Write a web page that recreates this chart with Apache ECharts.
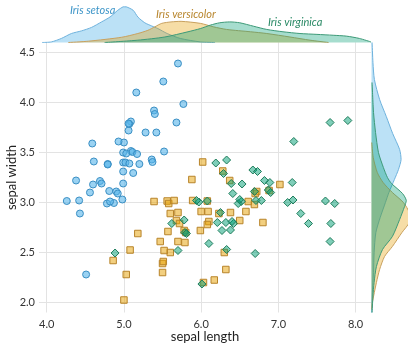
<!DOCTYPE html>
<html>
<head>
<meta charset="utf-8">
<script src="https://cdn.jsdelivr.net/npm/echarts@6/dist/echarts.min.js"></script>
<style>
  html, body { margin: 0; padding: 0; background: #fff; }
  #chart { width: 408px; height: 344px; }
</style>
</head>
<body>
<div id="chart"></div>
<script>
// Iris sepal measurements: [sepal length, sepal width]
const setosa = [
  [5.09,3.515],[4.87,2.995],[4.69,3.215],[4.56,3.10],[5.00,3.60],[5.39,3.92],[4.61,3.41],[4.99,3.40],
  [4.43,2.89],[4.90,3.11],[5.42,3.70],[4.79,3.385],[4.78,2.99],[4.26,3.015],[5.77,3.985],[5.70,4.39],
  [5.40,3.885],[5.11,3.505],[5.68,3.80],[5.09,3.81],[5.36,3.43],[5.06,3.72],[4.59,3.59],[5.12,3.295],
  [4.79,3.38],[4.98,3.03],[5.02,3.40],[5.17,3.485],[5.20,3.385],[4.71,3.19],[4.81,3.115],[5.37,3.405],
  [5.16,4.10],[5.51,4.21],[4.92,3.09],[4.99,3.19],[5.52,3.51],[4.93,3.61],[4.42,3.02],[5.07,3.39],
  [4.99,3.50],[4.51,2.28],[4.38,3.22],[5.03,3.49],[5.07,3.785],[4.82,3.01],[5.06,3.79],[4.60,3.18],
  [5.28,3.70],[4.99,3.31]
];
const versicolor = [
  [7.02,3.18],[6.37,3.22],[6.88,3.12],[5.50,2.30],[6.50,2.82],[5.68,2.82],[6.28,3.315],[4.86,2.42],
  [6.58,2.91],[5.18,2.69],[5.00,2.025],[5.89,3.02],[6.03,2.20],[6.09,2.91],[5.60,2.89],[6.70,3.09],
  [5.56,3.015],[5.80,2.70],[6.17,2.225],[5.60,2.50],[5.88,3.23],[6.10,2.81],[6.30,2.50],[6.08,2.78],
  [6.38,2.90],[6.61,3.01],[6.80,2.80],[6.69,2.98],[6.00,2.91],[5.70,2.61],[5.50,2.39],[5.51,2.41],
  [5.78,2.72],[5.99,2.72],[5.39,3.01],[6.02,3.405],[6.72,3.11],[6.32,2.33],[5.58,2.99],[5.52,2.52],
  [5.47,2.61],[6.08,3.015],[5.79,2.60],[5.03,2.28],[5.57,2.71],[5.65,3.02],[5.70,2.90],[6.23,2.89],
  [5.08,2.525],[5.72,2.79]
];
const virginica = [
  [6.29,3.29],[5.79,2.70],[7.12,3.00],[6.25,2.90],[6.52,3.01],[7.61,3.015],[4.885,2.495],[7.29,2.89],
  [6.70,2.49],[7.20,3.61],[6.53,3.185],[6.38,2.725],[6.78,3.02],[5.70,2.52],[5.78,2.825],[6.39,3.19],
  [6.48,2.99],[7.67,3.80],[7.67,2.61],[6.01,2.185],[6.89,3.20],[5.62,2.79],[7.68,2.79],[6.27,2.72],
  [6.67,3.325],[7.18,3.20],[6.21,2.80],[6.08,3.015],[6.42,2.79],[7.19,3.025],[7.39,2.79],[7.90,3.82],
  [6.40,2.81],[6.32,2.80],[6.10,2.59],[7.73,2.99],[6.33,3.425],[6.41,3.09],[5.97,3.005],[6.87,3.125],
  [6.69,3.11],[6.90,3.10],[5.81,2.69],[6.82,3.22],[6.73,3.31],[6.71,3.02],[6.33,2.53],[6.50,3.03],
  [6.19,3.395],[5.94,3.02]
];

// Marginal densities of sepal length: [sepal length, density]
const setosaLengthDensity = [
  [3.94,0],[4.06,0.02],[4.19,0.14],[4.32,0.31],[4.45,0.40],[4.58,0.52],[4.71,0.71],[4.82,0.88],
  [4.92,1.11],[4.99,1.23],[5.03,1.23],[5.12,1.11],[5.18,0.88],[5.27,0.68],[5.36,0.57],[5.44,0.48],
  [5.56,0.31],[5.73,0.14],[5.99,0.02],[6.18,0]
];
const versicolorLengthDensity = [
  [4.28,0],[4.54,0.045],[4.97,0.18],[5.18,0.31],[5.31,0.42],[5.40,0.54],[5.49,0.66],[5.61,0.71],
  [5.74,0.73],[5.99,0.66],[6.16,0.54],[6.33,0.45],[6.64,0.37],[6.85,0.31],[7.15,0.19],[7.41,0.08],
  [7.65,0]
];
const virginicaLengthDensity = [
  [4.75,0],[5.18,0.08],[5.53,0.19],[5.83,0.37],[5.99,0.48],[6.12,0.60],[6.24,0.68],[6.37,0.71],
  [6.50,0.68],[6.68,0.56],[6.85,0.45],[7.06,0.37],[7.28,0.31],[7.50,0.28],[7.71,0.25],[7.88,0.22],
  [8.05,0.14],[8.2,0.02]
];

// Marginal densities of sepal width: [sepal width, density]
const setosaWidthDensity = [
  [4.6,0.02],[4.4,0.05],[4.23,0.10],[4.03,0.28],[3.86,0.51],[3.69,0.73],[3.53,0.97],[3.43,1.02],
  [3.33,0.93],[3.23,0.79],[3.10,0.60],[3.00,0.48],[2.85,0.30],[2.70,0.15],[2.50,0.09],[2.30,0.07],
  [2.10,0.03],[1.9,0.01]
];
const versicolorWidthDensity = [
  [3.6,0.01],[3.45,0.06],[3.3,0.20],[3.2,0.40],[3.1,0.72],[3.0,1.10],[2.9,1.30],[2.8,1.30],
  [2.7,1.05],[2.56,0.72],[2.46,0.45],[2.33,0.28],[2.2,0.17],[2.0,0.03],[1.93,0]
];
const virginicaWidthDensity = [
  [4.2,0.02],[3.9,0.07],[3.7,0.14],[3.5,0.24],[3.35,0.41],[3.25,0.55],[3.19,0.69],[3.09,1.07],
  [3.02,1.20],[2.96,1.14],[2.83,0.97],[2.66,0.72],[2.53,0.38],[2.36,0.17],[2.2,0.09],[2.06,0.05],
  [1.9,0.02]
];

const xTicks = [4.0, 5.0, 6.0, 7.0, 8.0];
const yTicks = [2.0, 2.5, 3.0, 3.5, 4.0, 4.5];
const speciesNames = ['Iris setosa', 'Iris versicolor', 'Iris virginica'];

const FONT = 'Lato';
const palette = {
  setosa:     { point: 'rgba(86,180,233,0.6)', pointLine: '#3a8fc4', area: 'rgba(86,180,233,0.4)', areaLine: '#6eb2dd', text: '#3d95c8' },
  versicolor: { point: 'rgba(230,159,0,0.5)',  pointLine: '#b8842a', area: 'rgba(230,159,0,0.35)', areaLine: '#c9a15e', text: '#b8862e' },
  virginica:  { point: 'rgba(0,158,115,0.5)',  pointLine: '#1f7d5c', area: 'rgba(0,158,115,0.35)', areaLine: '#3d9a78', text: '#2b8a66' }
};

// Filled density outline through the axes of a marginal grid.
// For the right margin the pairs are [width, density] and get swapped.
function densitySeries(points, gridIdx, swap, colors) {
  return {
    type: 'custom',
    xAxisIndex: gridIdx,
    yAxisIndex: gridIdx,
    data: [0],
    silent: true,
    clip: false,
    renderItem: function (params, api) {
      const pts = points.map(function (p) {
        return api.coord(swap ? [p[1], p[0]] : p);
      });
      let minX = Infinity, minY = Infinity, maxX = -Infinity, maxY = -Infinity;
      pts.forEach(function (q) {
        minX = Math.min(minX, q[0]); maxX = Math.max(maxX, q[0]);
        minY = Math.min(minY, q[1]); maxY = Math.max(maxY, q[1]);
      });
      // close the outline along the baseline
      const first = points[0], last = points[points.length - 1];
      const base0 = api.coord(swap ? [0, first[0]] : [first[0], 0]);
      const base1 = api.coord(swap ? [0, last[0]] : [last[0], 0]);
      return {
        type: 'group',
        children: [
          {
            type: 'polygon',
            shape: { points: [base0].concat(pts, [base1]), smooth: 0.25,
                     smoothConstraint: [[Math.min(minX, base0[0]), Math.min(minY, base0[1])], [Math.max(maxX, base1[0]), Math.max(maxY, base1[1])]] },
            style: { fill: colors.area, stroke: null }
          },
          {
            type: 'polyline',
            shape: { points: pts, smooth: 0.25, smoothConstraint: [[minX, minY], [maxX, maxY]] },
            style: { fill: null, stroke: colors.areaLine, lineWidth: 1 }
          }
        ]
      };
    }
  };
}

function scatterSeries(name, data, symbol, size, colors) {
  return {
    name: name,
    type: 'scatter',
    xAxisIndex: 0,
    yAxisIndex: 0,
    data: data,
    symbol: symbol,
    symbolSize: size,
    itemStyle: { color: colors.point, borderColor: colors.pointLine, borderWidth: 1, opacity: 1 },
    emphasis: { disabled: true }
  };
}

const chart = echarts.init(document.getElementById('chart'), null, { renderer: 'canvas' });

const option = {
  animation: false,
  backgroundColor: '#ffffff',
  textStyle: { fontFamily: FONT },
  grid: [
    { left: 39, top: 42.5, width: 332, height: 270, outerBoundsMode: 'none', containLabel: false },   // scatter panel
    { left: 39, top: 0, width: 332, height: 42.5, outerBoundsMode: 'none', containLabel: false },      // top margin
    { left: 371.5, top: 42.5, width: 40, height: 270, outerBoundsMode: 'none', containLabel: false }   // right margin
  ],
  xAxis: [
    {
      gridIndex: 0, type: 'value', min: 3.9, max: 8.2,
      name: 'sepal length', nameLocation: 'middle', nameGap: 18, nameMoveOverlap: false,
      nameTextStyle: { fontFamily: FONT, fontSize: 13, color: '#222' },
      axisLine: { show: false },
      axisTick: { show: false, customValues: xTicks },
      axisLabel: { customValues: xTicks, color: '#333', fontSize: 11, fontFamily: FONT, margin: 6,
                   formatter: function (v) { return v.toFixed(1); } },
      splitLine: { show: true, lineStyle: { color: '#e3e3e3', width: 1 } }
    },
    { gridIndex: 1, type: 'value', min: 3.9, max: 8.2, show: false, splitLine: { show: false } },
    { gridIndex: 2, type: 'value', min: 0, max: 40 / 29, show: false, splitLine: { show: false } }
  ],
  yAxis: [
    {
      gridIndex: 0, type: 'value', min: 1.9, max: 4.6,
      name: 'sepal width', nameLocation: 'middle', nameGap: 21, nameMoveOverlap: false,
      nameTextStyle: { fontFamily: FONT, fontSize: 13, color: '#222' },
      axisLine: { show: false },
      axisTick: { show: false, customValues: yTicks },
      axisLabel: { customValues: yTicks, color: '#333', fontSize: 11, fontFamily: FONT, margin: 4,
                   formatter: function (v) { return v.toFixed(1); } },
      splitLine: { show: true, lineStyle: { color: '#e3e3e3', width: 1 } }
    },
    { gridIndex: 1, type: 'value', min: 0, max: 42.5 / 29, show: false, splitLine: { show: false } },
    { gridIndex: 2, type: 'value', min: 1.9, max: 4.6, show: false, splitLine: { show: false } }
  ],
  graphic: [
    { type: 'text', left: 70, top: 5, style: { text: speciesNames[0], fontFamily: FONT, fontStyle: 'italic', fontSize: 11, fill: palette.setosa.text } },
    { type: 'text', left: 156, top: 9, style: { text: speciesNames[1], fontFamily: FONT, fontStyle: 'italic', fontSize: 11, fill: palette.versicolor.text } },
    { type: 'text', left: 268, top: 17, style: { text: speciesNames[2], fontFamily: FONT, fontStyle: 'italic', fontSize: 11, fill: palette.virginica.text } }
  ],
  series: [
    densitySeries(setosaLengthDensity, 1, false, palette.setosa),
    densitySeries(versicolorLengthDensity, 1, false, palette.versicolor),
    densitySeries(virginicaLengthDensity, 1, false, palette.virginica),
    densitySeries(setosaWidthDensity, 2, true, palette.setosa),
    densitySeries(versicolorWidthDensity, 2, true, palette.versicolor),
    densitySeries(virginicaWidthDensity, 2, true, palette.virginica),
    scatterSeries(speciesNames[0], setosa, 'circle', 7, palette.setosa),
    scatterSeries(speciesNames[1], versicolor, 'rect', 6.5, palette.versicolor),
    scatterSeries(speciesNames[2], virginica, 'diamond', 8, palette.virginica)
  ]
};

chart.setOption(option);
</script>
</body>
</html>
